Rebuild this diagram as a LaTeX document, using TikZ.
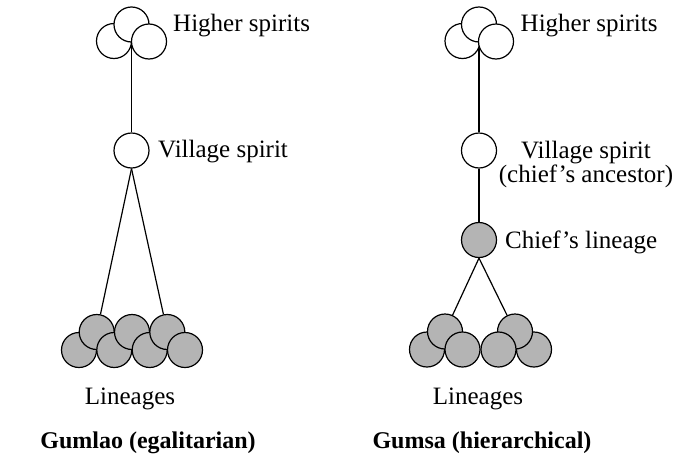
\documentclass[tikz,border=0pt]{standalone}
\usepackage{fontspec}
\setmainfont{Liberation Serif}
\usetikzlibrary{backgrounds}
\definecolor{lingray}{RGB}{180,180,180}
\begin{document}
\begin{tikzpicture}[x=1pt,y=-1pt,
  spirit/.style={circle,draw,line width=1.2pt,minimum size=35pt,inner sep=0pt,fill=white},
  lineage/.style={spirit,fill=lingray},
  conn/.style={line width=1.2pt},
  lbl/.style={font=\fontsize{25}{24}\selectfont,inner sep=0pt},
  title/.style={font=\fontsize{24}{28}\selectfont\bfseries,inner sep=0pt}]
\useasboundingbox (0,0) rectangle (676,466);
% ---------- left: Gumlao ----------
\node[spirit] (lhL) at (114,41) {};
\node[spirit] (lhT) at (131.5,24.5) {};
\node[spirit] (lhR) at (149,41.5) {};
\node[spirit] (lv) at (131.5,150.5) {};
\node[lineage] (lb1) at (79,350) {};
\node[lineage] (lt1) at (96.7,332) {};
\node[lineage] (lb2) at (114.3,350) {};
\node[lineage] (lt2) at (132,332) {};
\node[lineage] (lb3) at (149.7,350) {};
\node[lineage] (lt3) at (167.3,332) {};
\node[lineage] (lb4) at (185,350) {};
\begin{scope}[on background layer]
\draw[conn] (lhT) -- (lv);
\draw[conn] (lv.south) -- (lt1);
\draw[conn] (lv.south) -- (lt3);
\end{scope}
\node[lbl,anchor=base west] (lhtxt) at (173,31) {Higher spirits};
\node[lbl,anchor=base west] (lvtxt) at (158,157) {Village spirit};
\node[lbl,anchor=base] (lltxt) at (130,404) {Lineages};
\node[title,anchor=base] (ltitle) at (148,448) {Gumlao (egalitarian)};
% ---------- right: Gumsa ----------
\node[spirit] (rhL) at (462.5,41) {};
\node[spirit] (rhT) at (479,24.5) {};
\node[spirit] (rhR) at (496,41.5) {};
\node[spirit] (rv) at (479,150.5) {};
\node[lineage] (rc) at (479,240) {};
\node[lineage] (rb1) at (427,349.5) {};
\node[lineage] (rt1) at (445,331.5) {};
\node[lineage] (rb2) at (462.5,349.5) {};
\node[lineage] (rb4) at (534,349.5) {};
\node[lineage] (rt2) at (515,331.5) {};
\node[lineage] (rb3) at (498.5,349.5) {};
\begin{scope}[on background layer]
\draw[conn] (rhT) -- (rv);
\draw[conn] (rv) -- (rc);
\draw[conn] (rc.south) -- (rt1);
\draw[conn] (rc.south) -- (rt2);
\end{scope}
\node[lbl,anchor=base west] (rhtxt) at (520.5,31) {Higher spirits};
\node[lbl,align=center] (rvtxt) at (586,164) {Village spirit\\(chief’s ancestor)};
\node[lbl,anchor=base west] (rctxt) at (505,248) {Chief’s lineage};
\node[lbl,anchor=base] (rltxt) at (478,404) {Lineages};
\node[title,anchor=base] (rtitle) at (482,448) {Gumsa (hierarchical)};
\end{tikzpicture}
\end{document}
